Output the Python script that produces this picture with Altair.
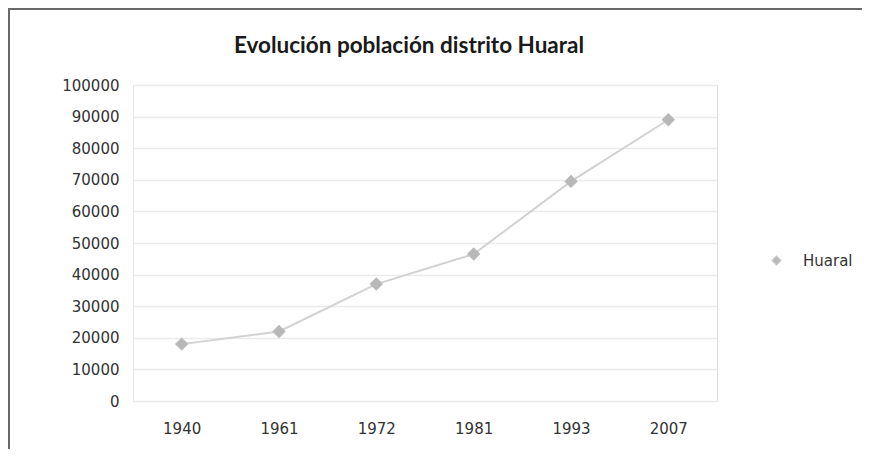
import altair as alt
import pandas as pd

years = ["1940", "1961", "1972", "1981", "1993", "2007"]
population = [18000, 22000, 37000, 46500, 69500, 89000]
series_name = ["Huaral"] * len(years)
y_ticks = list(range(0, 100001, 10000))

df = pd.DataFrame({"year": years, "pop": population, "serie": series_name})

FONT = "DejaVu Sans"

x_enc = alt.X(
    "year:N",
    sort=years,
    scale=alt.Scale(type="point", padding=0.5),
    axis=alt.Axis(
        title=None, labelAngle=0, grid=False, domain=False, ticks=False,
        labelPadding=20, labelFont=FONT, labelFontSize=15, labelColor="#333333",
    ),
)
y_enc = alt.Y(
    "pop:Q",
    scale=alt.Scale(domain=[0, 100000], nice=False),
    axis=alt.Axis(
        title=None, values=y_ticks, format="d", grid=True, gridColor="#ebebeb",
        gridWidth=1.5, domain=True, domainColor="#e6e6e6", ticks=False,
        labelPadding=14, labelFont=FONT, labelFontSize=15, labelColor="#333333",
    ),
)

base = alt.Chart(df).encode(x=x_enc, y=y_enc)

line = base.mark_line(color="#d2d2d2", strokeWidth=2)

points = base.mark_point(shape="diamond", filled=True, size=180, opacity=1).encode(
    color=alt.Color(
        "serie:N",
        scale=alt.Scale(range=["#b8b8b8"]),
        legend=alt.Legend(
            title=None, orient="none", legendX=636, legendY=168, padding=0,
            symbolType="diamond", symbolSize=70, symbolFillColor="#c4c4c4",
            symbolStrokeColor="#c4c4c4", labelFont=FONT, labelFontSize=15,
            labelColor="#333333", labelOffset=19,
        ),
    )
)

frame = alt.Chart(df).mark_rect(
    fill=None, stroke="#6a6a6a", strokeWidth=1.5
).encode(
    x=alt.value(-124), x2=alt.value(745), y=alt.value(-76), y2=alt.value(366)
)

chart = (
    alt.layer(frame, line, points)
    .properties(
        width=584,
        height=316,
        title=alt.TitleParams(
            "Evolución población distrito Huaral",
            font="Lato", fontSize=22.5, fontWeight="bold", color="#1a1a1a",
            anchor="middle", frame="group", baseline="alphabetic",
            dx=-16, offset=14, dy=81,
        ),
        autosize=alt.AutoSizeParams(type="none"),
        padding={"left": 125, "top": 77, "right": 145, "bottom": 48},
    )
    .configure_view(stroke=None)
    .configure(background="white")
)

chart.save("out.html", embed_options={"renderer": "svg", "actions": False})
